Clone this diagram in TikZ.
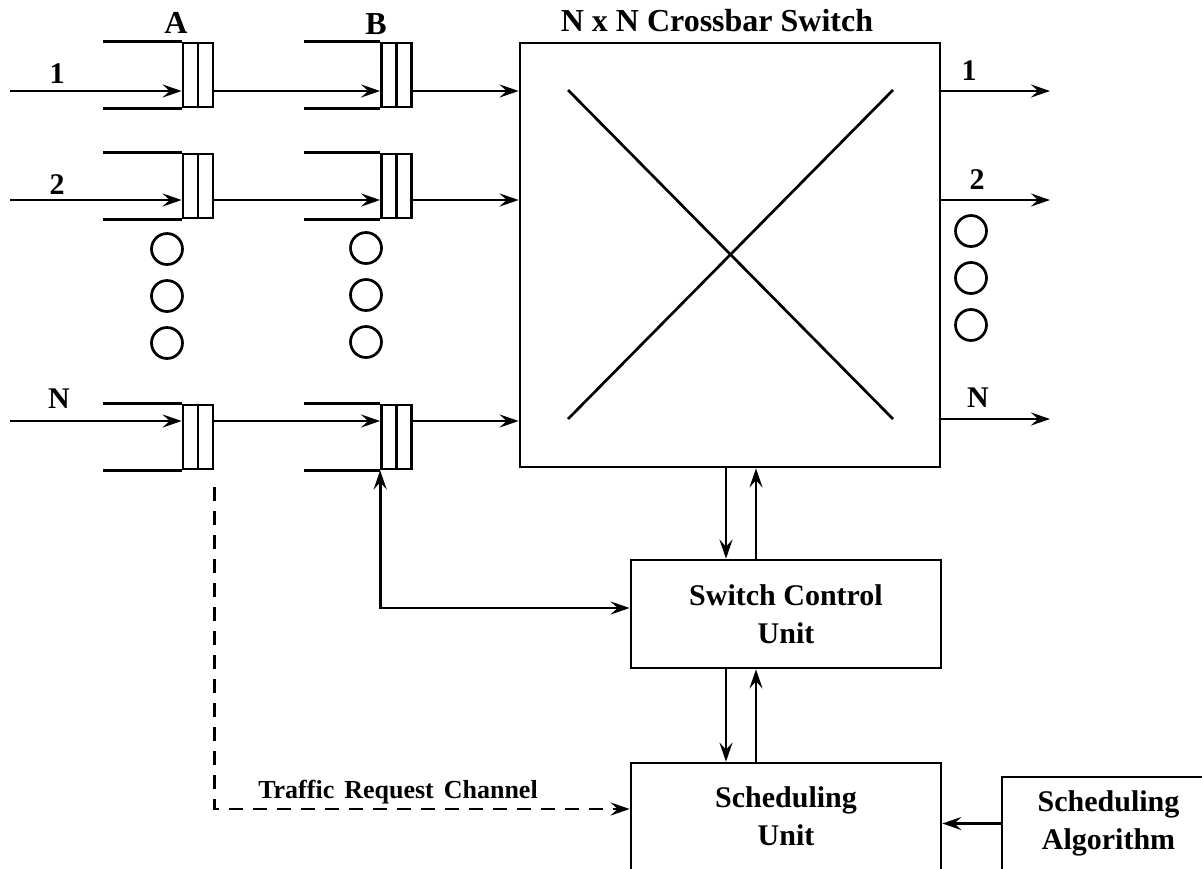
\documentclass[tikz,border=0pt]{standalone}
\usepackage{fontspec}
\setmainfont{Liberation Serif}
\usetikzlibrary{arrows.meta,calc}
\begin{document}
\begin{tikzpicture}[x=1pt,y=-1pt,line width=2.7pt,
 arr/.style={-{Stealth[length=19pt,width=13pt,inset=7pt]}},
 biarr/.style={{Stealth[length=19pt,width=13pt,inset=7pt]}-{Stealth[length=19pt,width=13pt,inset=7pt]}},
 qbox/.style={draw,rectangle,minimum width=30pt,minimum height=64pt,inner sep=0pt},
 ellipsisdot/.style={draw,circle,minimum size=31pt,inner sep=0pt},
 lbl/.style={font=\bfseries\fontsize{30}{34}\selectfont,inner sep=0pt},
 unitbox/.style={draw,rectangle,align=center,inner sep=0pt,font=\bfseries\fontsize{30}{38}\selectfont},
 ]
\useasboundingbox (0,0) rectangle (1202,868);

% crossbar
\node[draw,rectangle,minimum width=420pt,minimum height=424pt,inner sep=0pt] (xbar) at (730,255) {};
\draw (568,90) -- (893,419);
\draw (893,90) -- (568,419);
\node[lbl,font=\bfseries\fontsize{32}{36}\selectfont] (title) at (717,21) {N x N Crossbar Switch};

% queues
\node[qbox] (qA1) at (198,75) {};
\node[qbox] (qB1) at (396.5,75) {};
\node[qbox] (qA2) at (198,186) {};
\node[qbox] (qB2) at (396.5,186) {};
\node[qbox] (qAN) at (198,437) {};
\node[qbox] (qBN) at (396.5,437) {};
\foreach \q/\l in {qA1/79,qA2/79,qAN/79,qB1/76,qB2/76,qBN/76} {
  \draw (\q.north) -- (\q.south);
  \draw (\q.north west) -- ++(-\l,0);
  \draw (\q.south west) -- ++(-\l,0);
}
\node[lbl,font=\bfseries\fontsize{32}{36}\selectfont] (labA) at (176,23) {A};
\node[lbl,font=\bfseries\fontsize{32}{36}\selectfont] (labB) at (376,24) {B};

% inputs
\coordinate (in1) at (10,91);
\coordinate (in2) at (10,200);
\coordinate (inN) at (10,421);
\foreach \i/\n in {in1/1,in2/2,inN/N} {
  \draw[arr] (\i) -- (\i -| qA\n.west);
  \draw[arr] (\i -| qA\n.east) -- (\i -| qB\n.west);
  \draw[arr] (\i -| qB\n.east) -- (\i -| xbar.west);
}
\node[lbl] (li1) at (57,74) {1};
\node[lbl] (li2) at (57,185) {2};
\node[lbl] (liN) at (59,399) {N};

% outputs
\coordinate (out1) at (1050,91);
\coordinate (out2) at (1050,200);
\coordinate (outN) at (1050,419);
\foreach \o in {out1,out2,outN} {
  \draw[arr] (\o -| xbar.east) -- (\o);
}
\node[lbl] (lo1) at (969,71) {1};
\node[lbl] (lo2) at (977,180) {2};
\node[lbl] (loN) at (978,398) {N};

% ellipsis circles
\node[ellipsisdot] (ca1) at (167,249) {};
\node[ellipsisdot] (ca2) at (167,296) {};
\node[ellipsisdot] (ca3) at (167,343) {};
\node[ellipsisdot] (cb1) at (366,248) {};
\node[ellipsisdot] (cb2) at (366,295) {};
\node[ellipsisdot] (cb3) at (366,342) {};
\node[ellipsisdot] (co1) at (971,231) {};
\node[ellipsisdot] (co2) at (971,278) {};
\node[ellipsisdot] (co3) at (971,325) {};

% control boxes
\node[unitbox,minimum width=310pt,minimum height=108pt] (scu) at (786,614) {Switch Control\\Unit};
\node[unitbox,minimum width=310pt,minimum height=107pt] (su) at (786,816.5) {Scheduling\\Unit};
\node[unitbox,minimum width=213pt,minimum height=93pt] (sa) at (1108.5,823.5) {Scheduling\\Algorithm};

\coordinate (dnx) at (726,0);
\coordinate (upx) at (756,0);
\draw[arr] (xbar.south -| dnx) -- (scu.north -| dnx);
\draw[arr] (scu.north -| upx) -- (xbar.south -| upx);
\draw[arr] (scu.south -| dnx) -- (su.north -| dnx);
\draw[arr] (su.north -| upx) -- (scu.south -| upx);

\coordinate (ctl) at (0,608);
\draw[biarr] (qBN.south west) |- (scu.west |- ctl);

\coordinate (trc) at (0,809);
\coordinate (trcstart) at ($(qAN.south east)+(0,17)$);
\draw[arr,dash pattern=on 14pt off 10pt] (trcstart) |- (su.west |- trc);
\node[inner sep=0pt,font=\bfseries\fontsize{26}{30}\selectfont] (trclbl) at (398,792) {Traffic\hspace{10pt}Request\hspace{10pt}Channel};

\draw[arr] (sa.west) -- (sa.west -| su.east);
\end{tikzpicture}
\end{document}
